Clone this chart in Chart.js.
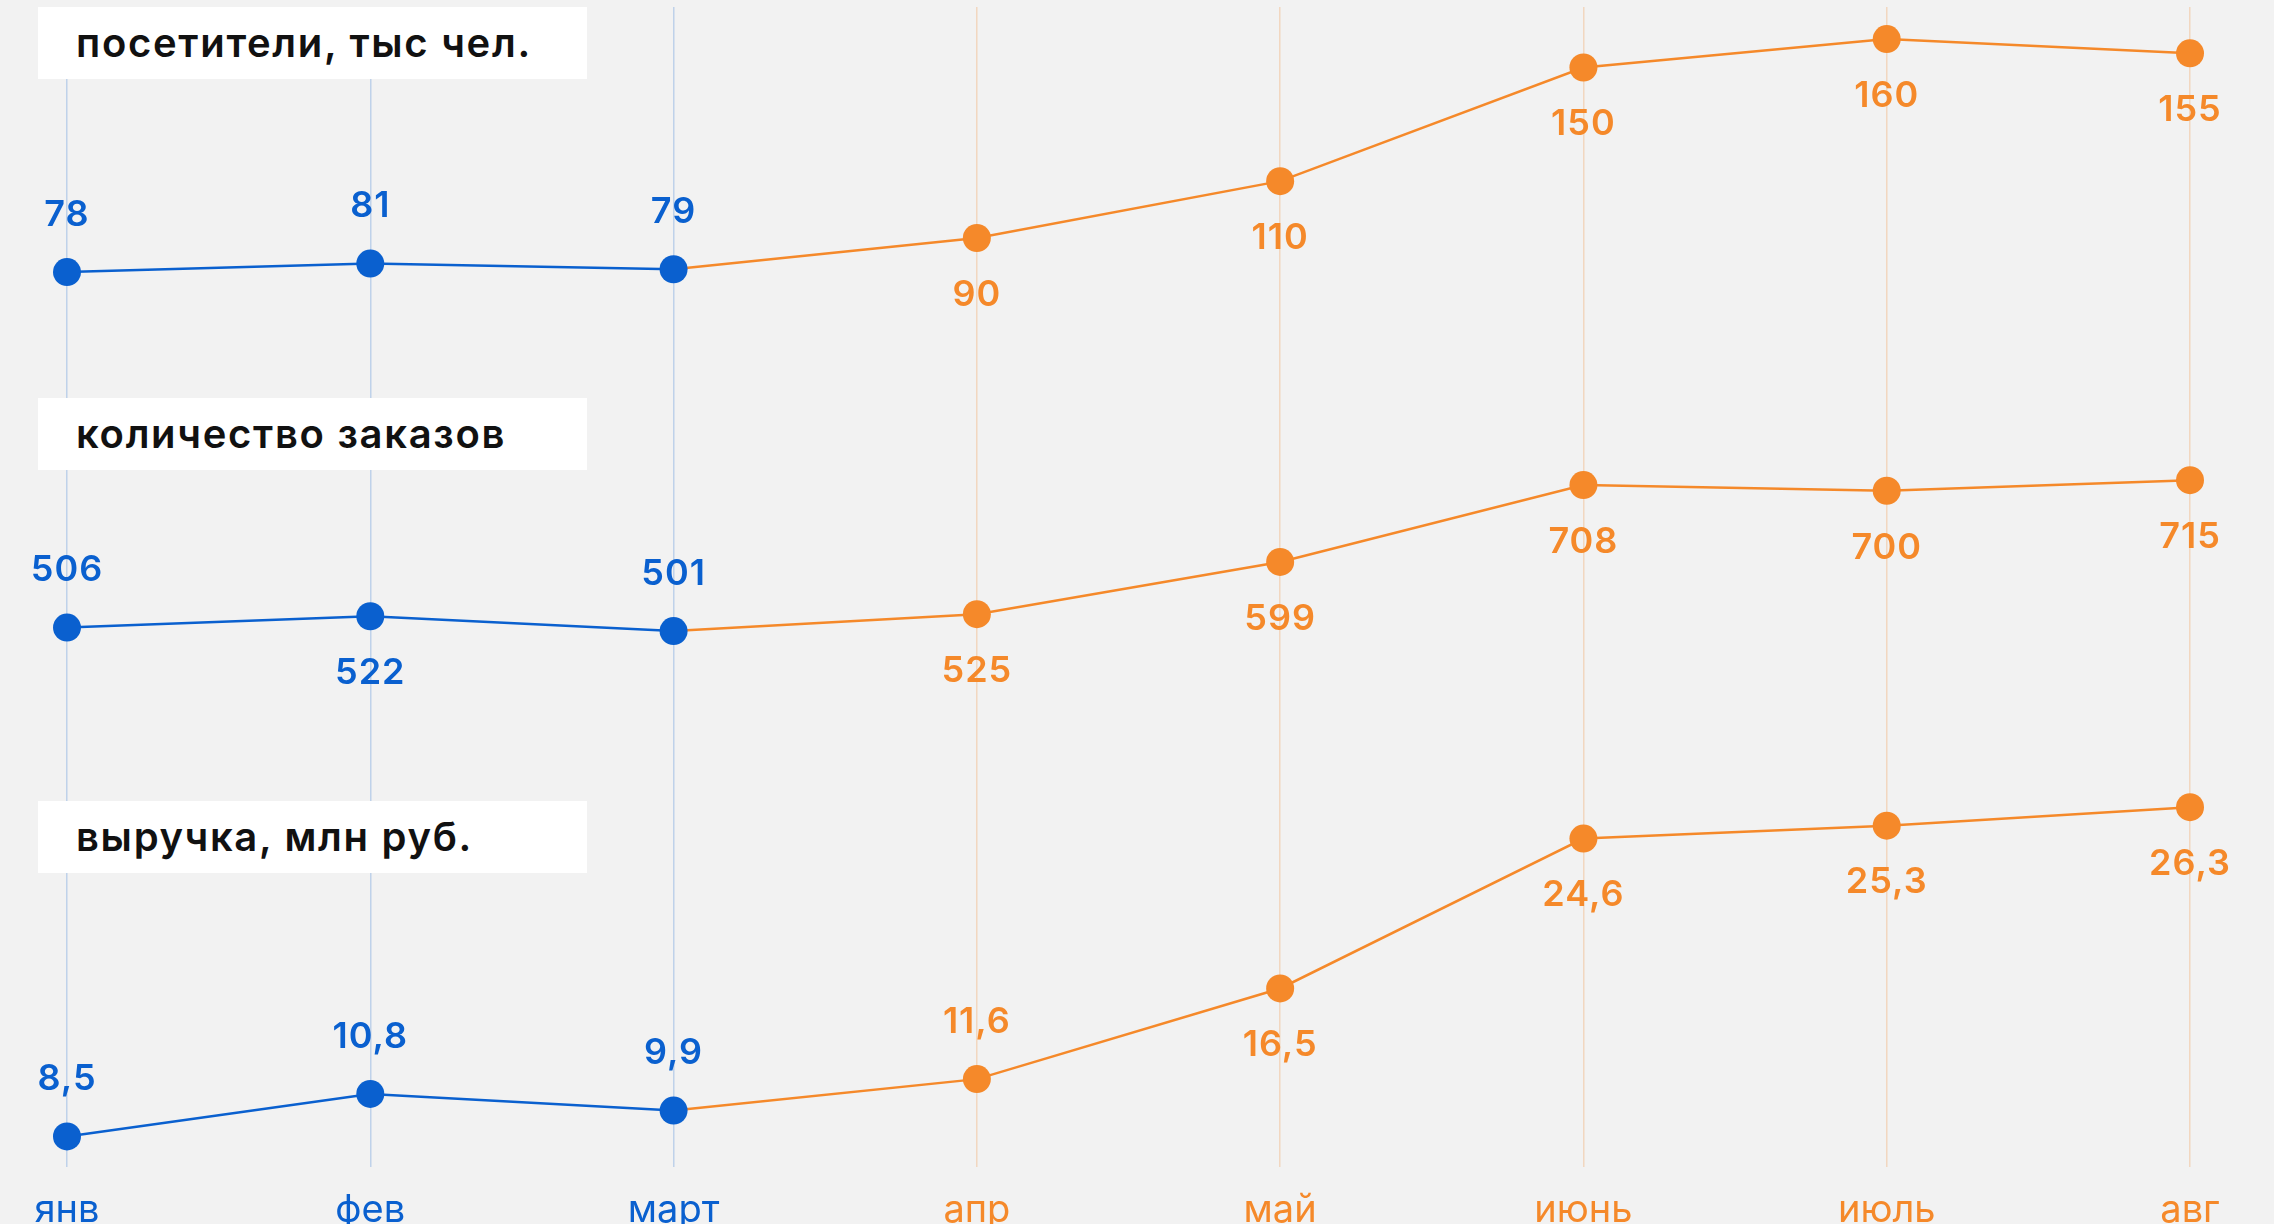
<!DOCTYPE html>
<html><head><meta charset="utf-8">
<script src="https://cdn.jsdelivr.net/npm/chart.js@4.4.1/dist/chart.umd.min.js"></script>
<style>
html,body{margin:0;padding:0;background:#f2f2f2;}
#wrap{position:relative;width:2274px;height:1224px;overflow:hidden;background:#f2f2f2;}
#c{position:absolute;left:0;top:0;}
.ttl{position:absolute;left:38px;width:549px;height:72px;background:#fff;font-family:Inter,sans-serif;font-weight:600;font-size:40px;letter-spacing:1.7px;color:#111;box-sizing:border-box;padding-left:38px;line-height:72px;white-space:nowrap;}
</style></head>
<body>
<div id="wrap">
<canvas id="c" width="2274" height="1224"></canvas>
<div class="ttl" style="top:7px">посетители, тыс чел.</div>
<div class="ttl" style="top:398px">количество заказов</div>
<div class="ttl" style="top:801px">выручка, млн руб.</div>
</div>
<script>
const months = ['янв','фев','март','апр','май','июнь','июль','авг'];
const visitors = [78, 81, 79, 90, 110, 150, 160, 155];
const orders = [506, 522, 501, 525, 599, 708, 700, 715];
const revenue = [8.5, 10.8, 9.9, 11.6, 16.5, 24.6, 25.3, 26.3];
const actualMonths = 3; // first months drawn in blue

const BLUE = '#0a60cf';
const ORANGE = '#f5892a';
const BLUE_GRID = 'rgba(10,96,207,0.22)';
const ORANGE_GRID = 'rgba(245,137,42,0.25)';
const FONT = 'Inter, sans-serif';

// label placement per series: -1 above point, +1 below point
const placeVisitors = [-1,-1,-1,1,1,1,1,1];
const placeOrders = [-1,1,-1,1,1,1,1,1];
const placeRevenue = [-1,-1,-1,-1,1,1,1,1];

const colorAt = i => i < actualMonths ? BLUE : ORANGE;

function ds(data, axis, places, decimals) {
  return {
    data, yAxisID: axis, places, decimals,
    borderWidth: 2.5,
    pointRadius: 14, pointHoverRadius: 14, pointBorderWidth: 0,
    pointBackgroundColor: ctx => colorAt(ctx.dataIndex),
    segment: { borderColor: ctx => colorAt(ctx.p0DataIndex + (ctx.p0DataIndex >= actualMonths - 1 ? 1 : 0)) },
    borderColor: BLUE,
    clip: false,
    tension: 0
  };
}

const labelPlugin = {
  id: 'valueLabels',
  afterDatasetsDraw(chart) {
    const ctx = chart.ctx;
    ctx.save();
    ctx.font = '600 36px ' + FONT;
    ctx.letterSpacing = '1px';
    ctx.textAlign = 'center';
    ctx.textBaseline = 'middle';
    chart.data.datasets.forEach((d, di) => {
      const meta = chart.getDatasetMeta(di);
      meta.data.forEach((pt, i) => {
        const v = d.data[i];
        const txt = d.decimals ? v.toFixed(d.decimals).replace('.', ',') : String(v);
        ctx.fillStyle = colorAt(i);
        ctx.fillText(txt, pt.x, pt.y + d.places[i] * 57);
      });
    });
    ctx.restore();
  }
};

new Chart(document.getElementById('c'), {
  type: 'line',
  data: {
    labels: months,
    datasets: [
      ds(visitors, 'y1', placeVisitors, 0),
      ds(orders, 'y2', placeOrders, 0),
      ds(revenue, 'y3', placeRevenue, 1)
    ]
  },
  options: {
    responsive: false,
    animation: false,
    devicePixelRatio: 1,
    layout: { autoPadding: false, padding: { left: 67, right: 84, top: 7, bottom: 0 } },
    plugins: { legend: { display: false }, tooltip: { enabled: false } },
    scales: {
      x: {
        offset: false,
        border: { display: false },
        grid: { color: c => c.index < actualMonths ? BLUE_GRID : ORANGE_GRID, lineWidth: 1.5, drawTicks: false },
        ticks: { color: c => colorAt(c.index), font: { family: FONT, size: 38, weight: 400 }, padding: 21, maxRotation: 0, autoSkip: false },
        afterFit: s => { s.height = 57; }
      },
      y1: { display: false, min: -237, max: 171.3 },
      y2: { display: false, min: -259, max: 1386 },
      y3: { display: false, min: 6.85, max: 69.55 }
    }
  },
  plugins: [labelPlugin]
});
</script>
</body></html>
